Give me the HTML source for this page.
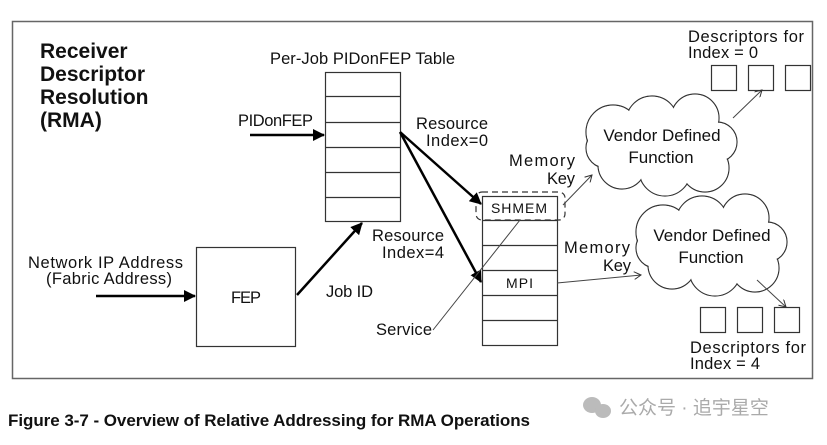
<!DOCTYPE html>
<html><head><meta charset="utf-8"><style>
body{margin:0;background:#fff;width:827px;height:440px;overflow:hidden}
svg text{font-family:"Liberation Sans","Noto Sans CJK SC",sans-serif;fill:#111}
</style></head><body>
<svg width="827" height="440" viewBox="0 0 827 440" xmlns="http://www.w3.org/2000/svg">
<defs>
<marker id="ab2" markerWidth="12" markerHeight="12" refX="11" refY="6" orient="auto" markerUnits="userSpaceOnUse"><path d="M0,0 L12,6 L0,12 z" fill="#000"/></marker>
<marker id="at" markerWidth="8" markerHeight="8" refX="7" refY="4" orient="auto" markerUnits="userSpaceOnUse"><path d="M0,0 L7,4 L0,8" fill="none" stroke="#333" stroke-width="1"/></marker>
<g id="cl">
<g fill="none" stroke="#333" stroke-width="1.2">
<circle cx="613" cy="132" r="27"/><circle cx="652" cy="122" r="26"/><circle cx="695" cy="118" r="24"/><circle cx="717" cy="142" r="20"/><circle cx="705" cy="168" r="24"/><circle cx="665" cy="170" r="26"/><circle cx="622" cy="165" r="24"/><circle cx="606" cy="148" r="20"/></g>
<g fill="#fff">
<circle cx="613" cy="132" r="26.4"/><circle cx="652" cy="122" r="25.4"/><circle cx="695" cy="118" r="23.4"/><circle cx="717" cy="142" r="19.4"/><circle cx="705" cy="168" r="23.4"/><circle cx="665" cy="170" r="25.4"/><circle cx="622" cy="165" r="23.4"/><circle cx="606" cy="148" r="19.4"/><rect x="612" y="120" width="100" height="55"/></g>
</g>
</defs>
<rect x="12.5" y="21.5" width="800" height="357" fill="none" stroke="#666" stroke-width="1.5"/>
<g font-weight="bold" font-size="21">
<text x="40" y="58">Receiver</text><text x="40" y="81">Descriptor</text><text x="40" y="104">Resolution</text><text x="40" y="127">(RMA)</text></g>
<text x="270" y="64" font-size="16.5" textLength="185">Per-Job PIDonFEP Table</text>
<g fill="none" stroke="#333" stroke-width="1.2">
<rect x="325.5" y="72.5" width="75" height="149"/>
<path d="M325 96.5H400M325 122.5H400M325 147.5H400M325 172.5H400M325 197.5H400"/>
<rect x="196.5" y="247.5" width="99" height="99"/>
<rect x="482.5" y="196.5" width="75" height="149"/>
<path d="M482 220.5H557M482 245.5H557M482 270.5H557M482 295.5H557M482 320.5H557"/>
<rect x="476" y="192" width="89" height="28" rx="6" stroke-dasharray="6,4"/>
<rect x="711.5" y="65.5" width="25" height="25"/><rect x="748.5" y="65.5" width="25" height="25"/><rect x="785.5" y="65.5" width="25" height="25"/>
<rect x="700.5" y="307.5" width="25" height="25"/><rect x="737.5" y="307.5" width="25" height="25"/><rect x="774.5" y="307.5" width="25" height="25"/>
</g>
<use href="#cl"/>
<use href="#cl" transform="translate(50,100)"/>
<g font-size="16.5">
<text x="238" y="126" textLength="75">PIDonFEP</text>
<text x="28" y="268" textLength="155">Network IP Address</text>
<text x="46" y="284" textLength="126">(Fabric Address)</text>
<text x="231" y="303" textLength="30">FEP</text>
<text x="326" y="297" textLength="47">Job ID</text>
<text x="416" y="129" textLength="72">Resource</text><text x="426" y="146" textLength="62">Index=0</text>
<text x="372" y="241" textLength="72">Resource</text><text x="382" y="258" textLength="62">Index=4</text>
<text x="376" y="335" textLength="56">Service</text>
<text x="509" y="166" textLength="66">Memory</text><text x="547" y="184" textLength="28">Key</text>
<text x="564" y="253" textLength="66">Memory</text><text x="603" y="271" textLength="28">Key</text>
<text x="688" y="42" textLength="116">Descriptors for</text><text x="688" y="58" textLength="70">Index = 0</text>
<text x="690" y="353" textLength="116">Descriptors for</text><text x="690" y="369" textLength="70">Index = 4</text>
</g>
<text x="491" y="213" font-size="14" textLength="56">SHMEM</text>
<text x="506" y="288" font-size="14" textLength="27">MPI</text>
<g font-size="17" text-anchor="middle">
<text x="662" y="141">Vendor Defined</text><text x="661" y="163">Function</text>
<text x="712" y="241">Vendor Defined</text><text x="711" y="263">Function</text>
</g>
<g stroke="#000" stroke-width="2.5" fill="none">
<line x1="250" y1="135" x2="324" y2="135" marker-end="url(#ab2)"/>
<line x1="96" y1="296" x2="195" y2="296" marker-end="url(#ab2)"/>
<line x1="297" y1="295" x2="362" y2="223" marker-end="url(#ab2)"/>
<line x1="400" y1="132" x2="481" y2="204" marker-end="url(#ab2)"/>
<line x1="400" y1="132" x2="481" y2="282" marker-end="url(#ab2)"/>
</g>
<g stroke="#444" stroke-width="1" fill="none">
<line x1="563" y1="205" x2="592" y2="175" marker-end="url(#at)"/>
<line x1="557" y1="283" x2="641" y2="275" marker-end="url(#at)"/>
<line x1="733" y1="118" x2="762" y2="90" marker-end="url(#at)"/>
<line x1="757" y1="280" x2="786" y2="307" marker-end="url(#at)"/>
<line x1="433" y1="330" x2="520" y2="220"/>
</g>
<text x="8" y="426" font-size="17" font-weight="bold" textLength="522">Figure 3-7 - Overview of Relative Addressing for RMA Operations</text>
<g fill="#bbb"><ellipse cx="592" cy="405" rx="9" ry="8"/><ellipse cx="603" cy="411" rx="8" ry="7"/></g>
<text x="619" y="414" font-size="19" style="fill:#aaa">公众号 · 追宇星空</text>
</svg>
</body></html>
